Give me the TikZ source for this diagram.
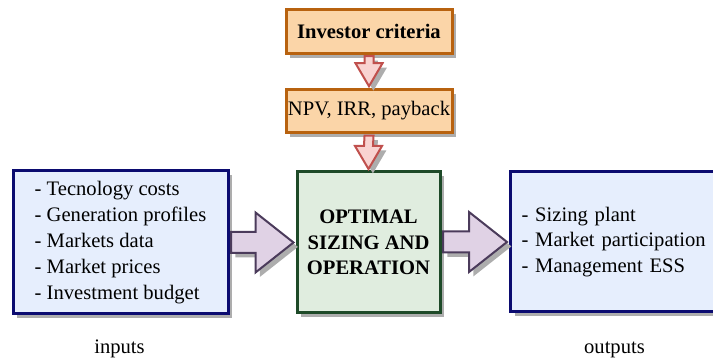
\documentclass[tikz,border=0pt]{standalone}
\usepackage{fontspec}
\setmainfont{LiberationSerif}[Extension=.ttf, UprightFont=*-Regular, BoldFont=*-Bold, ItalicFont=*-Italic, BoldItalicFont=*-BoldItalic]
\usetikzlibrary{calc,shadows}

\definecolor{critfill}{HTML}{FBD5A8}
\definecolor{critline}{HTML}{B8620F}
\definecolor{downfill}{HTML}{F9D3D1}
\definecolor{downline}{HTML}{C0504D}
\definecolor{corefill}{HTML}{E0EDDF}
\definecolor{coreline}{HTML}{1E4A28}
\definecolor{iofill}{HTML}{E6EEFD}
\definecolor{ioline}{HTML}{0B0B70}
\definecolor{arrfill}{HTML}{E0D2E5}
\definecolor{arrline}{HTML}{4B3B5B}

\tikzset{
  txt/.style={font=\rmfamily\fontsize{10.3}{12.9}\selectfont},
  shade box/.style={drop shadow={shadow xshift=2.2pt, shadow yshift=-2.2pt, fill=black!32, opacity=1}},
  box/.style={txt, draw, line width=1.5pt, inner sep=0pt, shade box},
  critbox/.style={box, fill=critfill, draw=critline, minimum width=83pt, minimum height=21.75pt},
  corebox/.style={box, fill=corefill, draw=coreline, minimum width=71.5pt, minimum height=70.5pt, align=center, font=\rmfamily\fontsize{10.3}{12.8}\selectfont\bfseries},
  iobox/.style={box, fill=iofill, draw=ioline, align=left},
  fatarrow/.style={draw=arrline, fill=arrfill, line width=1pt, line join=miter, shade box},
  downarrow/.style={draw=downline, fill=downfill, line width=1pt, line join=miter, shade box},
  caption/.style={txt, anchor=base}
}

\begin{document}
\begin{tikzpicture}[x=0.5pt, y=-0.5pt]
  \useasboundingbox (0,0) rectangle (713,363);

  % blocks
  \node[critbox, font=\rmfamily\fontsize{10.3}{12.9}\selectfont\bfseries] (crit) at (369,31.5) {Investor criteria};
  \node[critbox] (npv) at (369,111) {NPV, IRR, payback};
  \node[corebox] (core) at (368.5,242.5) {OPTIMAL\\SIZING AND\\OPERATION};
  \node[iobox, minimum width=107.5pt, minimum height=71.5pt] (inp) at (120.5,242.5)
    {- Tecnology costs\\- Generation profiles\\- Markets data\\- Market prices\\- Investment budget};
  \node[iobox, anchor=west, text width=104.5pt, inner xsep=5.5pt, minimum height=70pt] (out) at (509,242)
    {- Sizing plant\\- Market participation\\- Management ESS};

  % captions
  \node[caption] (lblin) at (119.5,354) {inputs};
  \node[caption] (lblout) at (614.5,354) {outputs};

  % down arrows between the criteria blocks and the core
  \foreach \a/\b in {crit/npv, npv/core}{
    \coordinate (A) at ($(\a.south)+(0,1.5)$);
    \coordinate (B) at ($(\b.north)+(0,-1.5)$);
    \draw[downarrow] ($(A)+(-4.5,0)$) -- ($(B)+(-4.5,-23)$) -- ($(B)+(-13.5,-23)$) -- (B)
      -- ($(B)+(13.5,-23)$) -- ($(B)+(4.5,-23)$) -- ($(A)+(4.5,0)$) -- cycle;
  }

  % horizontal arrows: inputs -> core -> outputs
  \foreach \a/\b in {inp/core, core/out}{
    \coordinate (B) at ($(\b.west)+(-2,0)$);
    \coordinate (A) at ($(\a.east |- \b.west)+(1.5,0)$);
    \draw[fatarrow] ($(A)+(0,-10.5)$) -- ($(B)+(-38,-10.5)$) -- ($(B)+(-38,-30)$) -- (B)
      -- ($(B)+(-38,30)$) -- ($(B)+(-38,10.5)$) -- ($(A)+(0,10.5)$) -- cycle;
  }
\end{tikzpicture}
\end{document}
